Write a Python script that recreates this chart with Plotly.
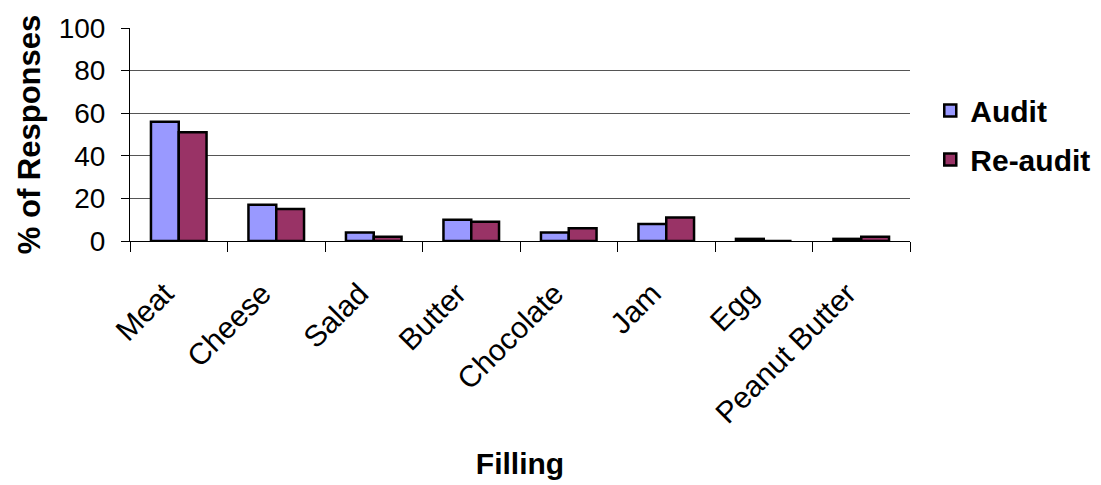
import plotly.graph_objects as go

fillings = ["Meat", "Cheese", "Salad", "Butter", "Chocolate", "Jam", "Egg", "Peanut Butter"]
audit = [56, 17, 4, 10, 4, 8, 1, 1]
reaudit = [51, 15, 2, 9, 6, 11, 0, 2]
y_ticks = [0, 20, 40, 60, 80, 100]

font_family = "Liberation Sans, Arial, sans-serif"

fig = go.Figure()
fig.add_trace(go.Bar(
    x=fillings, y=audit, name="Audit", legendgroup="a",
    marker=dict(color="#9999FF", line=dict(color="#000000", width=2.5)),
))
fig.add_trace(go.Bar(
    x=fillings, y=reaudit, name="Re-audit", legendgroup="b",
    marker=dict(color="#993366", line=dict(color="#000000", width=2.5)),
))

fig.update_layout(
    width=1101, height=485,
    margin=dict(l=130, r=191, t=28, b=244, autoexpand=False),
    paper_bgcolor="white", plot_bgcolor="white",
    font=dict(family=font_family, color="black"),
    barmode="group", bargap=0.43, bargroupgap=0,
    legend=dict(
        x=1.026, y=0.735, xanchor="left", yanchor="top",
        font=dict(size=30, family=font_family, color="black", weight="bold"),
        tracegroupgap=7, itemwidth=30,
    ),
    xaxis=dict(
        title=dict(text="<b>Filling</b>", font=dict(size=30), standoff=24),
        tickangle=-45, tickfont=dict(size=30),
        ticklabelshift=-14, ticklabelstandoff=22,
        showline=True, linecolor="black", linewidth=1,
        ticks="outside", ticklen=10, tickcolor="black",
        tickson="boundaries", showgrid=False, automargin=False,
    ),
    yaxis=dict(
        title=dict(text="<b>% of Responses</b>", font=dict(size=31), standoff=8),
        range=[0, 100], tickvals=y_ticks, tickfont=dict(size=28),
        ticklabelstandoff=10,
        showline=True, linecolor="black", linewidth=1,
        ticks="outside", ticklen=8, tickcolor="black",
        showgrid=True, gridcolor="#555555", gridwidth=1,
        zeroline=False, automargin=False,
    ),
)

fig.write_html("out.html")
